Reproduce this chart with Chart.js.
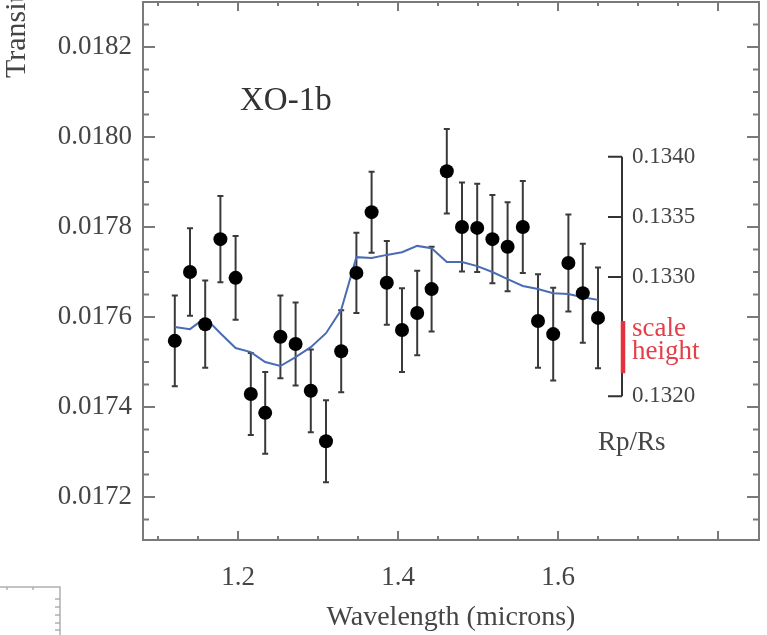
<!DOCTYPE html>
<html>
<head>
<meta charset="utf-8">
<title>XO-1b</title>
<script src="https://cdn.jsdelivr.net/npm/chart.js@4.4.1/dist/chart.umd.min.js"></script>
<style>
  html, body { margin: 0; padding: 0; background: #fff; }
  #wrap { width: 767px; height: 635px; }
</style>
</head>
<body>
<div id="wrap"><canvas id="chart" width="767" height="635"></canvas></div>
<script>
// XO-1b transmission spectrum, WFC3 bins (microns)
const wavelength = [1.121, 1.140, 1.159, 1.178, 1.197, 1.216, 1.234, 1.253, 1.272, 1.291,
                    1.310, 1.329, 1.348, 1.367, 1.386, 1.405, 1.424, 1.442, 1.461, 1.480,
                    1.499, 1.518, 1.537, 1.556, 1.575, 1.594, 1.613, 1.631, 1.650];
const depth = [0.017547, 0.017700, 0.017584, 0.017773, 0.017687, 0.017429, 0.017387, 0.017556, 0.017540, 0.017436,
               0.017324, 0.017524, 0.017698, 0.017833, 0.017676, 0.017571, 0.017609, 0.017662, 0.017924, 0.017800,
               0.017798, 0.017773, 0.017756, 0.017800, 0.017591, 0.017562, 0.017720, 0.017653, 0.017598];
const depthErr = [0.000101, 0.000097, 0.000097, 0.000096, 0.000093, 0.000091, 0.000091, 0.000092, 0.000092, 0.000092,
                  0.000091, 0.000091, 0.000089, 0.000090, 0.000093, 0.000093, 0.000094, 0.000094, 0.000094, 0.000099,
                  0.000098, 0.000098, 0.000099, 0.000102, 0.000104, 0.000103, 0.000108, 0.000110, 0.000112];
// model spectrum (water absorption)
const modelDepth = [0.017578, 0.017573, 0.017598, 0.017564, 0.017531, 0.017522, 0.017500, 0.017491, 0.017511, 0.017533,
                    0.017564, 0.017616, 0.017733, 0.017731, 0.017738, 0.017744, 0.017758, 0.017753, 0.017722, 0.017722,
                    0.017713, 0.017700, 0.017684, 0.017669, 0.017662, 0.017653, 0.017651, 0.017644, 0.017638];

const depthTicks = [0.0172, 0.0174, 0.0176, 0.0178, 0.0180, 0.0182];
const wavelengthTicks = [1.2, 1.4, 1.6];
const radiusRatioTicks = [0.1320, 0.1330, 0.1335, 0.1340];
const scaleHeightSpan = [0.017475, 0.017591];

const SERIF = '"Liberation Serif", "DejaVu Serif", serif';
const TEXT = '#454545';
const FRAME = '#7a7a7a';

// box with inward ticks on all four sides
const framePlugin = {
  id: 'frame',
  afterDraw(chart) {
    const { ctx, chartArea: a, scales: { x, y } } = chart;
    ctx.save();
    ctx.strokeStyle = FRAME;
    ctx.lineWidth = 2;
    ctx.strokeRect(a.left, a.top, a.right - a.left, a.bottom - a.top);
    ctx.beginPath();
    for (let i = 20; i <= 38; i++) {
      const px = x.getPixelForValue(i * 0.05);
      if (px < a.left + 3 || px > a.right - 3) continue;
      const len = i % 4 === 0 ? 9 : 4;
      ctx.moveTo(px, a.bottom); ctx.lineTo(px, a.bottom - len);
      ctx.moveTo(px, a.top); ctx.lineTo(px, a.top + len);
    }
    for (let k = 340; k <= 368; k++) {
      const py = y.getPixelForValue(k * 0.00005);
      if (py < a.top + 3 || py > a.bottom - 3) continue;
      const len = k % 4 === 0 ? 12 : 6;
      ctx.moveTo(a.left, py); ctx.lineTo(a.left + len, py);
      ctx.moveTo(a.right, py); ctx.lineTo(a.right - len, py);
    }
    ctx.stroke();

    // corner of the neighbouring panel
    ctx.strokeStyle = '#b0b0b0';
    ctx.lineWidth = 1.5;
    ctx.beginPath();
    ctx.moveTo(0, 587); ctx.lineTo(60, 587); ctx.lineTo(60, 635);
    [7, 33].forEach(px => { ctx.moveTo(px, 587); ctx.lineTo(px, 590); });
    [599, 607, 615, 623, 630].forEach(py => { ctx.moveTo(60, py); ctx.lineTo(55, py); });
    ctx.stroke();
    ctx.restore();
  }
};

// vertical error bars under the points
const errorBarPlugin = {
  id: 'errorBars',
  beforeDatasetsDraw(chart) {
    const { ctx, scales: { x, y } } = chart;
    ctx.save();
    ctx.strokeStyle = '#3a3a3a';
    ctx.lineWidth = 2;
    ctx.beginPath();
    wavelength.forEach((w, i) => {
      const px = x.getPixelForValue(w);
      const top = y.getPixelForValue(depth[i] + depthErr[i]);
      const bot = y.getPixelForValue(depth[i] - depthErr[i]);
      ctx.moveTo(px, top); ctx.lineTo(px, bot);
      ctx.moveTo(px - 3, top); ctx.lineTo(px + 3, top);
      ctx.moveTo(px - 3, bot); ctx.lineTo(px + 3, bot);
    });
    ctx.stroke();
    ctx.restore();
  }
};

// planet label, Rp/Rs bracket, scale height bar and y title
const notesPlugin = {
  id: 'notes',
  afterDatasetsDraw(chart) {
    const { ctx, scales: { x, y } } = chart;
    ctx.save();

    ctx.fillStyle = '#333';
    ctx.font = '33px ' + SERIF;
    ctx.textAlign = 'left';
    ctx.textBaseline = 'alphabetic';
    ctx.fillText('XO-1b', x.getPixelForValue(1.2025), y.getPixelForValue(0.01806));

    const bx = x.getPixelForValue(1.68);
    const yHi = y.getPixelForValue(radiusRatioTicks[radiusRatioTicks.length - 1] ** 2);
    const yLo = y.getPixelForValue(radiusRatioTicks[0] ** 2);
    ctx.strokeStyle = '#333';
    ctx.lineWidth = 2;
    ctx.beginPath();
    ctx.moveTo(bx, yHi); ctx.lineTo(bx, yLo);
    radiusRatioTicks.forEach(r => {
      const py = y.getPixelForValue(r * r);
      ctx.moveTo(bx, py); ctx.lineTo(bx - 14, py);
    });
    ctx.stroke();

    ctx.fillStyle = TEXT;
    ctx.font = '23px ' + SERIF;
    ctx.textBaseline = 'middle';
    radiusRatioTicks.forEach(r => {
      ctx.fillText(r.toFixed(4), bx + 10, y.getPixelForValue(r * r));
    });

    const sTop = y.getPixelForValue(scaleHeightSpan[1]);
    const sBot = y.getPixelForValue(scaleHeightSpan[0]);
    ctx.strokeStyle = '#e3323c';
    ctx.lineWidth = 4.5;
    ctx.beginPath();
    ctx.moveTo(bx + 1, sTop); ctx.lineTo(bx + 1, sBot);
    ctx.stroke();
    ctx.fillStyle = '#e3404a';
    ctx.font = '27px ' + SERIF;
    ctx.textBaseline = 'alphabetic';
    ctx.fillText('scale', bx + 10, sTop + 15);
    ctx.fillText('height', bx + 10, sTop + 38);

    ctx.fillStyle = TEXT;
    ctx.fillText('Rp/Rs', bx - 24, yLo + 54);

    // rotated y-axis title
    ctx.translate(25, 78);
    ctx.rotate(-Math.PI / 2);
    ctx.font = '30px ' + SERIF;
    ctx.fillText('Transit Depth', 0, 0);
    ctx.restore();
  }
};

new Chart(document.getElementById('chart'), {
  type: 'scatter',
  data: {
    datasets: [
      {
        type: 'line',
        label: 'Model',
        data: wavelength.map((w, i) => ({ x: w, y: modelDepth[i] })),
        borderColor: '#4a6cb3',
        borderWidth: 2,
        pointRadius: 0,
        tension: 0,
        fill: false,
        order: 2
      },
      {
        label: 'XO-1b',
        data: wavelength.map((w, i) => ({ x: w, y: depth[i] })),
        backgroundColor: '#000',
        borderWidth: 0,
        pointRadius: 7,
        order: 1
      }
    ]
  },
  options: {
    responsive: false,
    animation: false,
    devicePixelRatio: 1,
    layout: { autoPadding: false, padding: { left: 0, right: 8, top: 2, bottom: 0 } },
    plugins: { legend: { display: false }, tooltip: { enabled: false } },
    scales: {
      x: {
        type: 'linear',
        min: 1.08125,
        max: 1.85125,
        afterBuildTicks: s => { s.ticks = wavelengthTicks.map(v => ({ value: v })); },
        afterFit: s => { s.height = 95; s.paddingLeft = 0; s.paddingRight = 0; },
        grid: { display: false, drawTicks: false },
        border: { display: false },
        ticks: {
          padding: 22,
          maxRotation: 0,
          autoSkip: false,
          color: TEXT,
          font: { family: SERIF, size: 27 },
          callback: v => v.toFixed(1)
        },
        title: {
          display: true,
          text: 'Wavelength (microns)',
          color: TEXT,
          font: { family: SERIF, size: 28 },
          padding: { top: 0, bottom: 1 }
        }
      },
      y: {
        type: 'linear',
        min: 0.0171044,
        max: 0.0183,
        afterBuildTicks: s => { s.ticks = depthTicks.map(v => ({ value: v })); },
        afterFit: s => { s.width = 143; s.paddingTop = 0; s.paddingBottom = 0; },
        grid: { display: false, drawTicks: false },
        border: { display: false },
        ticks: {
          padding: 11,
          color: TEXT,
          font: { family: SERIF, size: 27 },
          callback: v => v.toFixed(4)
        }
      }
    }
  },
  plugins: [errorBarPlugin, notesPlugin, framePlugin]
});
</script>
</body>
</html>
